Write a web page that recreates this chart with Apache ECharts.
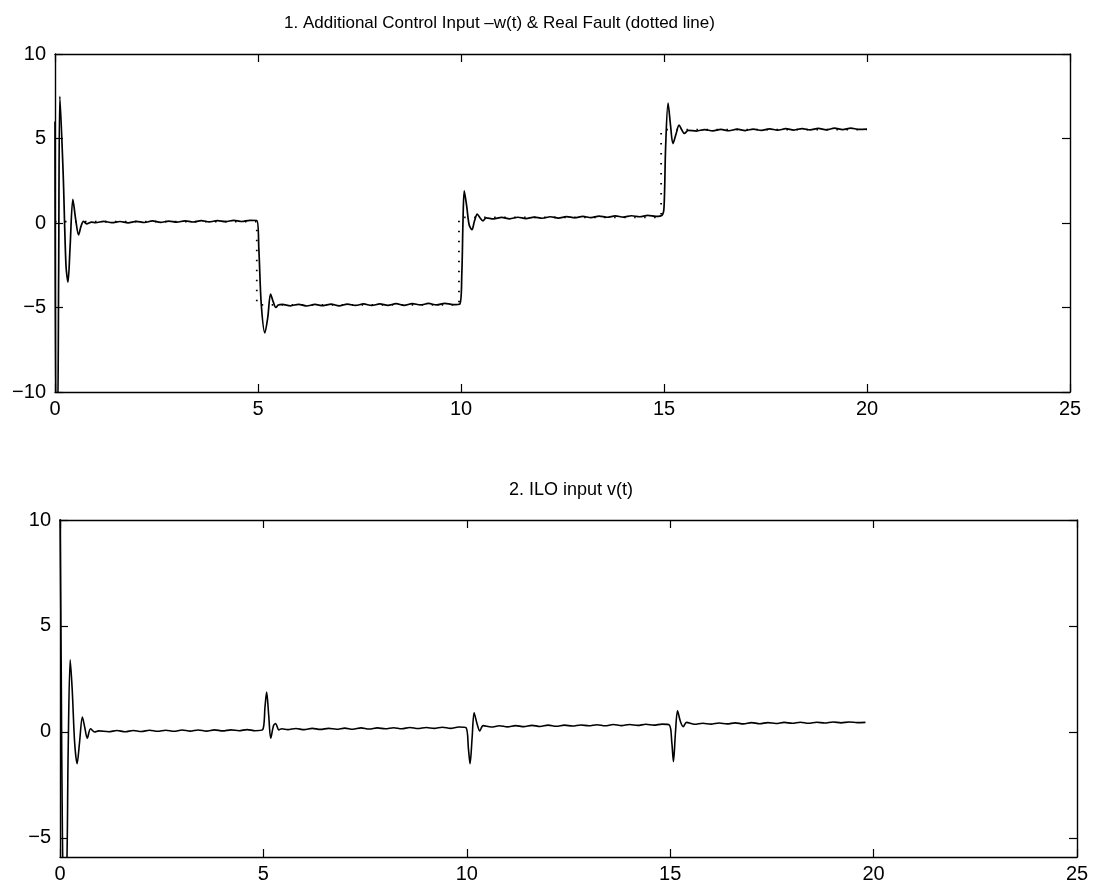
<!DOCTYPE html>
<html>
<head>
<meta charset="utf-8">
<title>ILO fault estimation</title>
<script src="https://cdn.jsdelivr.net/npm/echarts@6/dist/echarts.min.js"></script>
<style>
  html, body { margin: 0; padding: 0; background: #fff; }
  #main { width: 1095px; height: 889px; }
</style>
</head>
<body>
<div id="main"></div>
<script>
// 刻度
var xTicks = [0, 5, 10, 15, 20, 25];
var yTicksTop = [-10, -5, 0, 5, 10];
var yTicksBottom = [-5, 0, 5, 10];

// 1. -w(t)
var wTime = [0, 0.025, 0.06, 0.09, 0.12, 0.2, 0.27, 0.32, 0.37, 0.44, 0.51, 0.58, 0.64, 0.7, 0.78, 0.9,
  1.0, 1.2, 1.4, 1.6, 1.8, 2.0, 2.2, 2.4, 2.6, 2.8, 3.0, 3.2, 3.4, 3.6, 3.8, 4.0, 4.2, 4.4, 4.6, 4.8, 4.97,
  5.02, 5.08, 5.17, 5.24, 5.31, 5.38, 5.44, 5.5, 5.6,
  5.8, 6.0, 6.2, 6.4, 6.6, 6.8, 7.0, 7.2, 7.4, 7.6, 7.8, 8.0, 8.2, 8.4, 8.6, 8.8, 9.0, 9.2, 9.4, 9.6, 9.8, 9.97,
  10.02, 10.05, 10.08, 10.14, 10.2, 10.27, 10.33, 10.4, 10.47, 10.54, 10.62,
  10.8, 11.0, 11.2, 11.4, 11.6, 11.8, 12.0, 12.2, 12.4, 12.6, 12.8, 13.0, 13.2, 13.4, 13.6, 13.8, 14.0, 14.2, 14.4, 14.6, 14.8, 14.95,
  15.0, 15.04, 15.1, 15.16, 15.22, 15.3, 15.37, 15.44, 15.5, 15.6,
  15.8, 16.0, 16.2, 16.4, 16.6, 16.8, 17.0, 17.2, 17.4, 17.6, 17.8, 18.0, 18.2, 18.4, 18.6, 18.8, 19.0, 19.2, 19.4, 19.6, 19.8, 20.0];
var wValue = [6, -12, -12, -3, 7.5, 3, -2.5, -3.5, -1.5, 1.4, 0.2, -0.7, -0.2, 0.1, -0.05, 0.05,
  0.02, 0.1, 0.02, 0.09, 0.01, 0.1, 0.03, 0.12, 0.04, 0.11, 0.05, 0.13, 0.06, 0.14, 0.07, 0.14, 0.08, 0.16, 0.09, 0.16, 0.15,
  -1.5, -4.8, -6.5, -5.6, -4.2, -4.7, -5.0, -4.85, -4.82,
  -4.9, -4.81, -4.91, -4.82, -4.89, -4.8, -4.9, -4.8, -4.88, -4.79, -4.88, -4.79, -4.87, -4.77, -4.87, -4.77, -4.85, -4.76, -4.85, -4.75, -4.83, -4.8,
  -3.0, 0.2, 1.9, 1.0, -0.1, -0.4, 0.1, 0.53, 0.3, 0.13, 0.3,
  0.24, 0.33, 0.25, 0.34, 0.26, 0.35, 0.28, 0.37, 0.29, 0.38, 0.31, 0.39, 0.32, 0.41, 0.34, 0.42, 0.35, 0.43, 0.37, 0.45, 0.39, 0.45,
  0.9, 4.5, 7.1, 5.8, 4.7, 5.3, 5.8, 5.5, 5.3, 5.48,
  5.44, 5.53, 5.45, 5.54, 5.46, 5.55, 5.47, 5.56, 5.48, 5.57, 5.49, 5.58, 5.5, 5.59, 5.51, 5.6, 5.51, 5.61, 5.53, 5.61, 5.54, 5.56];

// 实际故障（虚线）
var faultTime = [0, 4.97, 4.97, 9.95, 9.95, 14.93, 14.93, 20];
var faultValue = [0.08, 0.08, -4.85, -4.85, 0.33, 0.33, 5.52, 5.52];

// 2. v(t)
var vTime = [0, 0.03, 0.06, 0.1, 0.16, 0.2, 0.25, 0.3, 0.36, 0.42, 0.48, 0.55, 0.61, 0.67, 0.75, 0.85, 0.95,
  1.2, 1.4, 1.6, 1.8, 2.0, 2.2, 2.4, 2.6, 2.8, 3.0, 3.2, 3.4, 3.6, 3.8, 4.0, 4.2, 4.4, 4.6, 4.8, 4.98,
  5.04, 5.08, 5.13, 5.18, 5.25, 5.3, 5.38, 5.45,
  5.6, 5.8, 6.0, 6.2, 6.4, 6.6, 6.8, 7.0, 7.2, 7.4, 7.6, 7.8, 8.0, 8.2, 8.4, 8.6, 8.8, 9.0, 9.2, 9.4, 9.6, 9.8, 9.98,
  10.04, 10.08, 10.13, 10.18, 10.25, 10.32, 10.4,
  10.6, 10.8, 11.0, 11.2, 11.4, 11.6, 11.8, 12.0, 12.2, 12.4, 12.6, 12.8, 13.0, 13.2, 13.4, 13.6, 13.8, 14.0, 14.2, 14.4, 14.6, 14.8, 14.98,
  15.04, 15.08, 15.13, 15.18, 15.25, 15.32, 15.4,
  15.6, 15.8, 16.0, 16.2, 16.4, 16.6, 16.8, 17.0, 17.2, 17.4, 17.6, 17.8, 18.0, 18.2, 18.4, 18.6, 18.8, 19.0, 19.2, 19.4, 19.6, 19.8, 20.0];
var vValue = [10.5, 3, -5, -7.5, -7, -1, 3.4, 2, -0.5, -1.5, -0.5, 0.7, 0.2, -0.3, 0.15, 0.0, 0.05,
  0.01, 0.07, 0.01, 0.07, 0.02, 0.08, 0.03, 0.08, 0.03, 0.09, 0.04, 0.09, 0.04, 0.1, 0.05, 0.1, 0.06, 0.11, 0.06, 0.1,
  1.2, 1.88, 0.8, -0.3, 0.3, 0.4, 0.1, 0.15,
  0.11, 0.16, 0.11, 0.17, 0.12, 0.17, 0.13, 0.18, 0.13, 0.19, 0.14, 0.19, 0.15, 0.2, 0.15, 0.21, 0.16, 0.21, 0.17, 0.22, 0.17, 0.23, 0.2,
  -0.8, -1.5, -0.3, 0.9, 0.4, 0.05, 0.3,
  0.23, 0.29, 0.24, 0.3, 0.25, 0.31, 0.26, 0.32, 0.27, 0.32, 0.28, 0.33, 0.29, 0.34, 0.29, 0.35, 0.3, 0.35, 0.31, 0.36, 0.32, 0.37, 0.33,
  -0.5, -1.4, 0.0, 1.0, 0.5, 0.25, 0.45,
  0.36, 0.41, 0.37, 0.42, 0.38, 0.43, 0.38, 0.44, 0.39, 0.44, 0.4, 0.45, 0.41, 0.46, 0.41, 0.46, 0.42, 0.47, 0.43, 0.47, 0.44, 0.45];

function pairs(ts, vs) {
  return ts.map(function (t, i) { return [t, vs[i]]; });
}

var font = 'Liberation Sans, Arial, sans-serif';
var black = '#000';

function minus(v) { return String(v).replace('-', '\u2212'); }

function xAxisOf(gridIndex, pos) {
  return {
    type: 'value', gridIndex: gridIndex, position: pos, min: 0, max: 25, interval: 5,
    axisLine: { show: true, onZero: false, lineStyle: { color: black, width: 1.4 } },
    axisTick: { show: true, inside: true, length: 8, lineStyle: { color: black, width: 1.2 } },
    axisLabel: { show: pos === 'bottom', color: black, fontFamily: font, fontSize: 20, margin: 7 },
    splitLine: { show: false }
  };
}

function yAxisOf(gridIndex, pos, min, max, ticks) {
  return {
    type: 'value', gridIndex: gridIndex, position: pos, min: min, max: max,
    axisLine: { show: true, onZero: false, lineStyle: { color: black, width: 1.4 } },
    axisTick: { show: true, inside: true, length: 8, customValues: ticks, lineStyle: { color: black, width: 1.2 } },
    axisLabel: { show: pos === 'left', customValues: ticks, color: black, fontFamily: font, fontSize: 20, margin: 9, formatter: minus },
    splitLine: { show: false }
  };
}

var myChart = echarts.init(document.getElementById('main'), null, { renderer: 'canvas' });

var option = {
  backgroundColor: '#fff',
  animation: false,
  title: [
    { text: '1. Additional Control Input \u2013w(t) & Real Fault (dotted line)', left: 279, top: 10,
      textStyle: { color: black, fontFamily: font, fontSize: 17, fontWeight: 'normal' } },
    { text: '2. ILO input v(t)', left: 566, textAlign: 'center', top: 476,
      textStyle: { color: black, fontFamily: font, fontSize: 18, fontWeight: 'normal' } }
  ],
  grid: [
    { left: 55, right: 25, top: 54, height: 338 },
    { left: 60, right: 18, top: 520, height: 337 }
  ],
  xAxis: [
    xAxisOf(0, 'bottom'), xAxisOf(0, 'top'),
    xAxisOf(1, 'bottom'), xAxisOf(1, 'top')
  ],
  yAxis: [
    yAxisOf(0, 'left', -10, 10, yTicksTop), yAxisOf(0, 'right', -10, 10, yTicksTop),
    yAxisOf(1, 'left', -5.9, 10, yTicksBottom), yAxisOf(1, 'right', -5.9, 10, yTicksBottom)
  ],
  series: [
    {
      name: 'Real Fault', type: 'line', xAxisIndex: 0, yAxisIndex: 0,
      data: pairs(faultTime, faultValue), showSymbol: false, clip: true,
      lineStyle: { color: black, width: 1.8, type: [1.5, 8.5] }
    },
    {
      name: '-w(t)', type: 'line', xAxisIndex: 0, yAxisIndex: 0,
      data: pairs(wTime, wValue), showSymbol: false, clip: true, smooth: 0.3,
      lineStyle: { color: black, width: 1.7 }
    },
    {
      name: 'v(t)', type: 'line', xAxisIndex: 2, yAxisIndex: 2,
      data: pairs(vTime, vValue), showSymbol: false, clip: true, smooth: 0.3,
      lineStyle: { color: black, width: 1.6 }
    }
  ]
};

myChart.setOption(option);
window.onresize = function () {
  myChart.resize();
};
</script>
</body>
</html>
